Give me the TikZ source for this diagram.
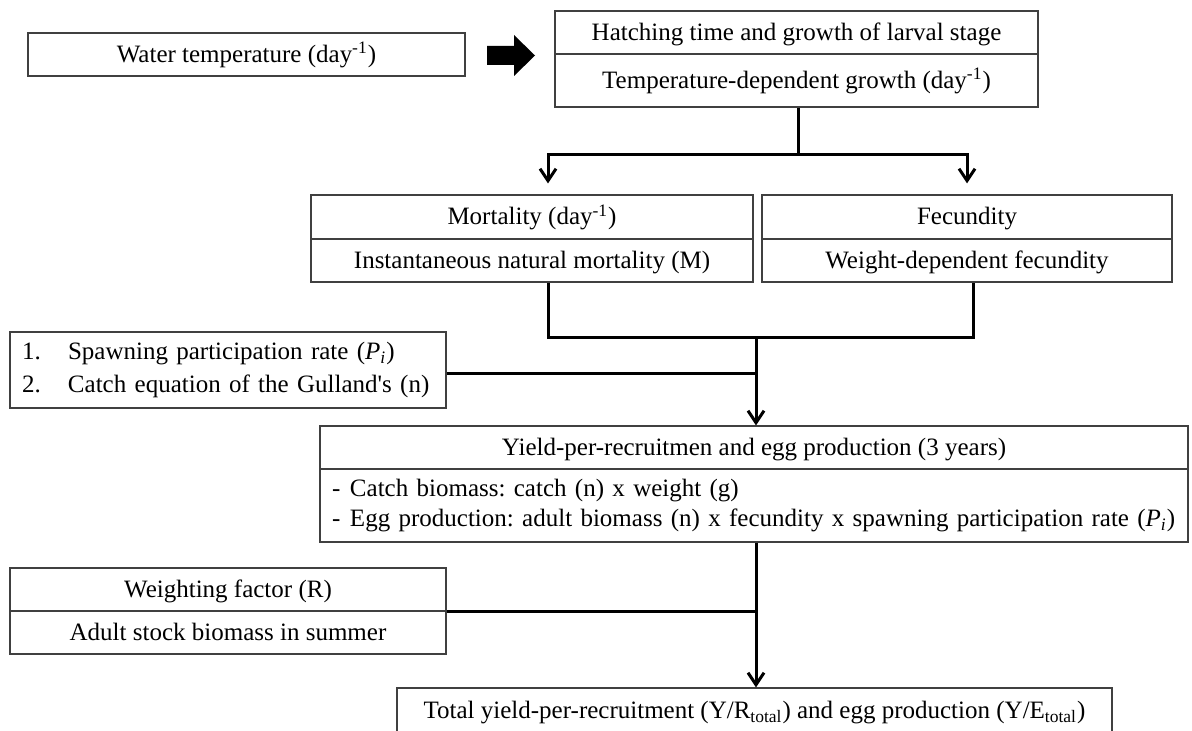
\documentclass[tikz,border=0pt]{standalone}
\usepackage{fontspec}
\setmainfont{Liberation Serif}
\usetikzlibrary{arrows.meta}
\definecolor{boxline}{HTML}{404040}
\frenchspacing

\begin{document}
\begin{tikzpicture}[x=0.5pt,y=-0.5pt]
\useasboundingbox (0,0) rectangle (1192,731);
\tikzset{conn/.style={line width=1.5pt,black},
  tip/.style={-{Straight Barb[length=6pt,width=8pt]}},
  row/.style={text height=10.2pt,text depth=2.4pt}}
\begin{scope}[every node/.style={rectangle,draw=boxline,line width=0.6pt,inner sep=0pt,font=\fontsize{12.5}{15}\selectfont}]
    \node[row,minimum width=218.5pt,minimum height=21.5pt] (water) at (246.5,54.5) {Water temperature (day\textsuperscript{-1})};
    \node[row,minimum width=241.5pt,minimum height=21.5pt] (hatchA) at (796.5,32.5) {Hatching time and growth of larval stage};
    \node[row,minimum width=241.5pt,minimum height=26.5pt] (hatchB) at (796.5,80.5) {Temperature-dependent growth (day\textsuperscript{-1})};

    \node[row,minimum width=221pt,minimum height=22pt] (mortA) at (532,217) {Mortality (day\textsuperscript{-1})};
    \node[row,minimum width=221pt,minimum height=21.5pt] (mortB) at (532,260.5) {Instantaneous natural mortality (M)};
    \node[row,minimum width=205pt,minimum height=22pt] (fecA) at (967,217) {Fecundity};
    \node[row,minimum width=205pt,minimum height=21.5pt] (fecB) at (967,260.5) {Weight-dependent fecundity};

    \node[minimum width=218pt,minimum height=38pt,text width=206pt,inner xsep=6pt,align=left,
          font=\fontsize{12.5}{16.5}\selectfont] (spawn) at (228,370)
        {\mbox{\makebox[23pt][l]{1.}Spawning participation rate (\textit{P\textsubscript{i}})}\\
         \mbox{\makebox[23pt][l]{2.}Catch equation of the Gulland\textquotesingle s (n)}};

    \node[row,minimum width=434pt,minimum height=21.5pt] (yieldA) at (754,447.5) {Yield-per-recruitmen and egg production (3 years)};
    \node[minimum width=434pt,minimum height=36.5pt,text width=422pt,inner xsep=6pt,align=left,
          font=\fontsize{12.5}{15}\selectfont] (yieldB) at (754,505.5)
        {\mbox{\makebox[9pt][l]{-}Catch biomass: catch (n) x weight (g)}\\
         \mbox{\makebox[9pt][l]{-}Egg production: adult biomass (n) x fecundity x spawning participation rate (\textit{P\textsubscript{i}})}};

    \node[row,minimum width=218pt,minimum height=21.5pt] (weightA) at (228,589.5) {Weighting factor (R)};
    \node[row,minimum width=218pt,minimum height=21.5pt] (weightB) at (228,632.5) {Adult stock biomass in summer};

    \node[row,minimum width=357.5pt,minimum height=22.5pt] (total) at (754.5,710.5)
        {Total yield-per-recruitment (Y/R\textsubscript{total}) and egg production (Y/E\textsubscript{total})};
\end{scope}

% block arrow from water temperature to growth
\fill (487,46) -- (514,46) -- (514,35) -- (535,55.5) -- (514,76) -- (514,65) -- (487,65) -- cycle;

% growth splits to mortality and fecundity
\draw[conn] (hatchB.south -| 798,0) -- (798,155) coordinate (split);
\draw[conn,tip] (split) -| ([xshift=8pt,yshift=5.5pt]mortA.north);
\draw[conn,tip] (split) -| ([yshift=5.5pt]fecA.north);

% mortality and fecundity join into yield
\coordinate (join) at (756,338);
\draw[conn] ([xshift=8pt]mortB.south) |- (join) -| ([xshift=3pt]fecB.south);
\draw[conn,tip] (join) -- (yieldA.north -| join);
\draw[conn] (spawn.east |- 0,374) -- (join |- 0,374);

% yield and weighting into total
\draw[conn,tip] (yieldB.south -| join) -- (total.north -| join);
\draw[conn] (weightA.south east) -- (weightA.south east -| join);
\end{tikzpicture}
\end{document}
